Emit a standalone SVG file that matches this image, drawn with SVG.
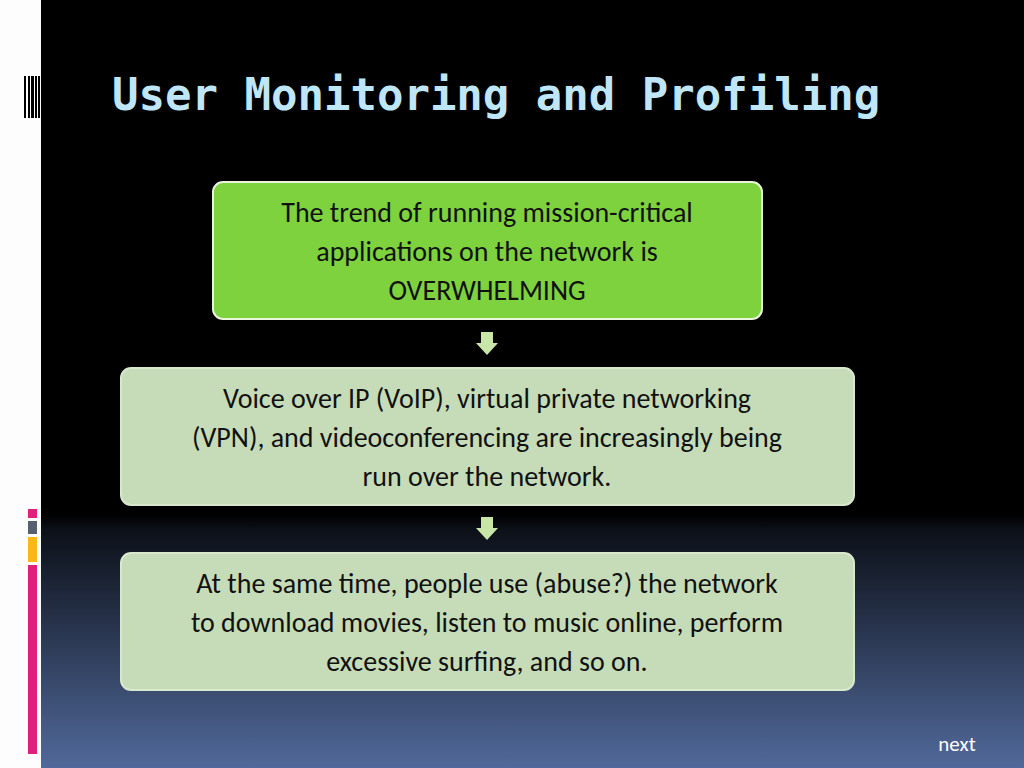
<svg xmlns="http://www.w3.org/2000/svg" width="1024" height="768" viewBox="0 0 1024 768">
<defs>
<linearGradient id="bg" x1="0" y1="0" x2="0" y2="1">
<stop offset="0" stop-color="#000"/><stop offset="0.67" stop-color="#000"/><stop offset="0.69" stop-color="#0c1018"/><stop offset="1" stop-color="#51699a"/>
</linearGradient>
<style>
.t{font-family:Carlito,"Liberation Sans",sans-serif;font-size:28px;fill:#111;text-anchor:middle}
.b2{fill:#c6dcb9;stroke:#d8e8cc;stroke-width:2}
.ar{fill:#c8e6a8}
</style>
</defs>
<rect width="1024" height="768" fill="url(#bg)"/>
<rect width="41" height="768" fill="#fdfdfd"/>
<g fill="#000"><rect x="24" y="76" width="2" height="42"/><rect x="28" y="76" width="2" height="42"/><rect x="31" y="76" width="3" height="42"/><rect x="35" y="76" width="2" height="42"/><rect x="38" y="76" width="2" height="42"/></g>
<rect x="28" y="509" width="9" height="9" fill="#e0207a"/>
<rect x="28" y="521" width="9" height="13" fill="#556070"/>
<rect x="28" y="537" width="9" height="25" fill="#f8b818"/>
<rect x="28" y="565" width="9" height="189" fill="#e0207a"/>
<text x="112" y="110" font-family="DejaVu Sans Mono,monospace" font-weight="bold" font-size="44" fill="#bfe6f6">User Monitoring and Profiling</text>
<g id="connectors">
<polygon class="ar" points="481,332 493,332 493,343 498,343 487,355 476,343 481,343"/>
<polygon class="ar" points="481,517 493,517 493,528 498,528 487,540 476,528 481,528"/>
</g>
<g id="n1"><rect x="213" y="182" width="549" height="137" rx="10" fill="#7ed23e" stroke="#e8f4dc" stroke-width="2"/>
<text class="t" x="487" y="222">The trend of running mission-critical</text><text class="t" x="487" y="261">applications on the network is</text><text class="t" x="487" y="300">OVERWHELMING</text></g>
<g id="n2"><rect class="b2" x="121" y="368" width="733" height="137" rx="10"/>
<text class="t" x="487" y="408">Voice over IP (VoIP), virtual private networking</text><text class="t" x="487" y="447">(VPN), and videoconferencing are increasingly being</text><text class="t" x="487" y="486">run over the network.</text></g>
<g id="n3"><rect class="b2" x="121" y="553" width="733" height="137" rx="10"/>
<text class="t" x="487" y="593">At the same time, people use (abuse?) the network</text><text class="t" x="487" y="632">to download movies, listen to music online, perform</text><text class="t" x="487" y="671">excessive surfing, and so on.</text></g>
<text x="957" y="751" font-family="Carlito,Liberation Sans,sans-serif" font-size="21" fill="#fff" text-anchor="middle">next</text>
</svg>
